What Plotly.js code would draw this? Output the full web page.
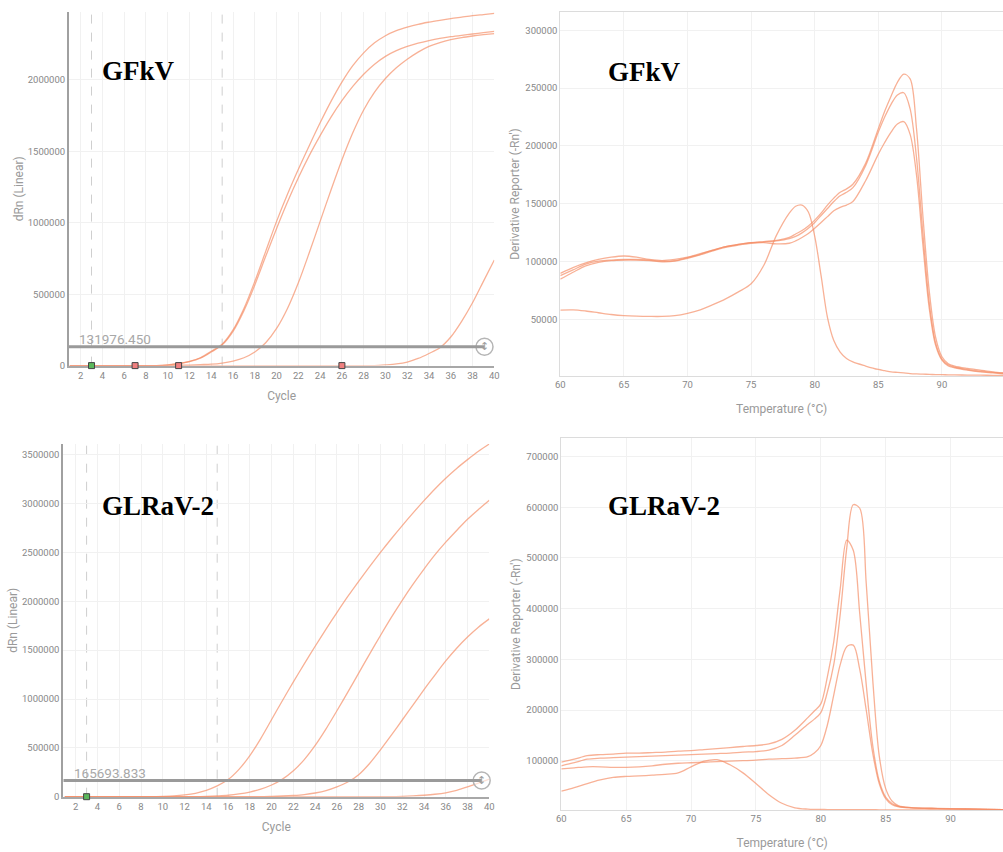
<!DOCTYPE html>
<html>
<head>
<meta charset="utf-8">
<script src="https://cdn.plot.ly/plotly-3.0.1.min.js"></script>
<style>
html,body{margin:0;padding:0;background:#fff;}
#chart{width:1003px;height:852px;}
</style>
</head>
<body>
<div id="chart"></div>
<script>
// ---------- DATA ----------
const cycles = [1,2,3,4,5,6,7,8,9,10,11,12,13,14,15,16,17,18,19,20,21,22,23,24,25,26,27,28,29,30,31,32,33,34,35,36,37,38,39,40];

// GFkV amplification (dRn)
const gfkvAmpA = [0,0,0,0,0,0,0,0,0,5000,15000,30000,55000,100000,150000,250000,400000,590000,800000,1010000,1200000,1375000,1540000,1700000,1850000,1985000,2100000,2190000,2260000,2310000,2345000,2370000,2390000,2405000,2418000,2430000,2440000,2450000,2458000,2466000];
const gfkvAmpB = [0,0,0,0,0,0,0,0,0,4000,13000,28000,52000,95000,145000,240000,385000,565000,765000,960000,1145000,1315000,1470000,1610000,1740000,1855000,1955000,2040000,2110000,2165000,2205000,2235000,2258000,2276000,2291000,2303000,2313000,2322000,2331000,2340000];
const gfkvAmpC = [0,0,0,0,0,0,0,0,0,0,2000,4000,7000,10000,18000,32000,55000,95000,160000,260000,400000,580000,790000,1010000,1230000,1440000,1630000,1790000,1915000,2010000,2085000,2145000,2195000,2235000,2262000,2282000,2297000,2308000,2317000,2325000];
const gfkvAmpD = [0,0,0,0,0,0,0,0,0,0,0,0,0,0,0,0,0,0,0,0,0,0,0,0,0,0,0,0,0,5000,12000,25000,50000,85000,125000,200000,310000,440000,590000,740000];
const gfkvThreshold = 131976.450;
const gfkvCtCycles = [3,7,11,26];
const gfkvCtColors = ['#5cb85c','#f08080','#f08080','#f08080'];

// GLRaV-2 amplification (dRn)
const glrAmpA = [0,0,0,0,0,0,0,0,0,3000,8000,18000,35000,65000,110000,175000,280000,420000,595000,790000,985000,1175000,1360000,1540000,1715000,1885000,2050000,2205000,2355000,2500000,2640000,2775000,2905000,3030000,3150000,3260000,3360000,3450000,3535000,3610000];
const glrAmpB = [0,0,0,0,0,0,0,0,0,0,0,0,0,3000,8000,15000,28000,48000,78000,120000,180000,265000,380000,525000,695000,880000,1070000,1265000,1460000,1650000,1835000,2010000,2175000,2330000,2475000,2605000,2725000,2840000,2940000,3035000];
const glrAmpC = [0,0,0,0,0,0,0,0,0,0,0,0,0,0,0,0,0,0,0,3000,7000,13000,22000,38000,62000,100000,150000,225000,340000,480000,630000,785000,940000,1095000,1245000,1390000,1520000,1635000,1735000,1820000];
const glrAmpD = [0,0,0,0,0,0,0,0,0,0,0,0,0,0,0,0,0,0,0,0,0,0,0,0,0,0,0,0,0,0,0,3000,8000,15000,25000,40000,65000,100000,140000,180000];
const glrThreshold = 165693.833;
const glrCtCycles = [3];
const glrCtColors = ['#5cb85c'];

// GFkV melt curve (derivative reporter)
const gfkvTemp = [60,61,62,63,64,65,66,67,68,69,70,71,72,73,74,75,76,77,78,78.5,79,79.5,80,80.5,81,81.5,82,82.5,83,84,85,85.5,86,86.5,87,87.5,88,88.5,89,89.5,90,90.5,91,92,93,94,95];
const gfkvMelt1 = [58300,58500,57500,56000,54500,53500,53000,52800,52800,53500,55500,58500,63000,68000,74000,81000,97000,123000,142000,148000,149000,143000,122000,88000,52000,32000,22000,16500,13500,10000,7000,6000,5000,4500,4000,3500,3200,3000,2800,2600,2500,2400,2300,2200,2100,2000,2000];
const gfkvMelt2 = [90000,95000,99000,102000,104000,105000,104000,102000,101000,102000,104000,107000,110000,113000,115000,116500,117500,118500,121000,124000,127000,131000,136000,142000,149000,155000,160000,163000,167000,185000,215000,230000,243000,255000,262000,258000,215000,140000,75000,35000,18000,12000,10000,8000,6500,5000,4000];
const gfkvMelt3 = [88000,93000,98000,100500,101500,102000,102000,101500,100500,101000,103500,106500,110000,113000,115000,116500,117000,118000,120000,122000,125000,129000,134000,140000,146000,152000,157000,160000,164000,183000,212000,225000,236000,244000,246000,232000,190000,125000,65000,30000,16000,11000,9000,7000,5500,4500,3500];
const gfkvMelt4 = [85000,91000,96500,99500,101000,101500,101500,101000,100000,100500,103000,106000,109500,112500,114500,116000,116500,115500,116000,118000,121000,124500,129000,134000,139000,144000,147000,149000,152000,170000,193000,203000,212000,219000,221000,210000,175000,115000,60000,28000,15000,10000,8500,6500,5000,4000,3000];

// GLRaV-2 melt curve (derivative reporter)
const glrTemp = [60,61,62,63,64,65,66,67,68,69,70,71,72,73,74,75,76,77,78,79,79.5,80,80.5,81,81.5,82,82.5,83,83.5,84,84.5,85,85.5,86,87,88,89,90,92,94,95];
const glrMelt1 = [97000,103000,110000,112000,113000,115000,115000,116000,117000,119000,120000,122000,124000,126000,128000,130000,133000,142000,160000,185000,198000,212000,265000,335000,440000,535000,515000,390000,250000,130000,60000,28000,15000,10000,7000,6000,5500,5000,4500,3500,3000];
const glrMelt2 = [90000,96000,103000,105000,106000,107000,108000,109000,110000,111000,112000,113000,114000,115000,117000,118000,121000,130000,150000,172000,182000,195000,235000,290000,390000,520000,605000,598000,450000,260000,110000,45000,20000,11000,7500,6500,6000,5500,4500,3500,3000];
const glrMelt3 = [84000,86000,88000,88000,87000,87000,88000,90000,93000,95000,96000,97000,98000,99000,100000,101000,103000,104000,105000,108000,115000,130000,170000,230000,290000,325000,328000,280000,200000,115000,55000,25000,13000,9000,7000,6000,5500,5000,4500,3500,3000];
const glrMelt4 = [40000,47000,55000,62000,67000,69000,70000,71500,73000,76000,88000,99000,102000,92000,76000,55000,33000,16000,7000,4500,4000,3800,3600,3500,3500,3400,3400,3300,3300,3300,3200,3200,3200,3100,3100,3000,3000,3000,3000,2900,2900];

// ---------- STYLE ----------
const curveColor = 'rgba(245,140,100,0.68)';
const tickFont = {family: 'Roboto, Arial, sans-serif', size: 9.5, color: '#888'};
const titleFont = {family: 'Roboto, Arial, sans-serif', size: 12, color: '#9a9a9a'};
const gridColor = '#f1f1f1';

function curve(x, y, xa, ya) {
  return {x: x, y: y, xaxis: xa, yaxis: ya, type: 'scatter', mode: 'lines',
    line: {color: curveColor, width: 1.3, shape: 'spline', smoothing: 0.9},
    hoverinfo: 'skip', showlegend: false, cliponaxis: true};
}

const traces = [];
[gfkvAmpA, gfkvAmpB, gfkvAmpC, gfkvAmpD].forEach(s => traces.push(curve(cycles, s, 'x', 'y')));
[gfkvMelt1, gfkvMelt2, gfkvMelt3, gfkvMelt4].forEach(s => traces.push(curve(gfkvTemp, s, 'x2', 'y2')));
[glrAmpA, glrAmpB, glrAmpC, glrAmpD].forEach(s => traces.push(curve(cycles, s, 'x3', 'y3')));
[glrMelt1, glrMelt2, glrMelt3, glrMelt4].forEach(s => traces.push(curve(glrTemp, s, 'x4', 'y4')));

// Ct markers on the baseline
traces.push({x: gfkvCtCycles, y: gfkvCtCycles.map(() => 0), xaxis: 'x', yaxis: 'y', type: 'scatter', mode: 'markers',
  marker: {symbol: 'square', size: 6, color: gfkvCtColors, line: {color: '#444', width: 1}}, cliponaxis: false, showlegend: false, hoverinfo: 'skip'});
traces.push({x: glrCtCycles, y: glrCtCycles.map(() => 0), xaxis: 'x3', yaxis: 'y3', type: 'scatter', mode: 'markers',
  marker: {symbol: 'square', size: 6, color: glrCtColors, line: {color: '#444', width: 1}}, cliponaxis: false, showlegend: false, hoverinfo: 'skip'});

// threshold handle circles
const gfkvHandleX = 39.1, glrHandleX = 39.3;
traces.push({x: [gfkvHandleX], y: [gfkvThreshold], xaxis: 'x', yaxis: 'y', type: 'scatter', mode: 'markers',
  marker: {symbol: 'circle', size: 17, color: '#fff', line: {color: '#b5b5b5', width: 1.5}}, cliponaxis: false, showlegend: false, hoverinfo: 'skip'});
traces.push({x: [glrHandleX], y: [glrThreshold], xaxis: 'x3', yaxis: 'y3', type: 'scatter', mode: 'markers',
  marker: {symbol: 'circle', size: 17, color: 'rgba(255,255,255,0.6)', line: {color: '#b5b5b5', width: 1.5}}, cliponaxis: false, showlegend: false, hoverinfo: 'skip'});

function ampX(domain, range) {
  return {domain: domain, range: range, dtick: 2, tick0: 0, showgrid: true, gridcolor: gridColor, zeroline: false,
    showline: true, linecolor: '#a8a8a8', linewidth: 2, ticks: '', tickfont: tickFont, layer: 'below traces',
    title: {text: 'Cycle', font: titleFont, standoff: 12}, automargin: false, fixedrange: true};
}
function ampY(domain, range) {
  return {domain: domain, range: range, dtick: 500000, tick0: 0, tickformat: 'd', showgrid: true, gridcolor: gridColor, zeroline: false,
    showline: true, linecolor: '#a0a0a0', linewidth: 2, ticks: '', tickfont: tickFont, layer: 'below traces',
    title: {text: 'dRn (Linear)', font: titleFont, standoff: 2}, automargin: false, fixedrange: true};
}
function meltX(domain, range) {
  return {domain: domain, range: range, dtick: 5, tick0: 0, showgrid: true, gridcolor: gridColor, zeroline: false,
    showline: true, mirror: true, linecolor: '#dcdcdc', linewidth: 1, ticks: '', tickfont: tickFont, layer: 'below traces',
    title: {text: 'Temperature (°C)', font: titleFont, standoff: 15}, automargin: false, fixedrange: true};
}
function meltY(domain, range, dtick) {
  return {domain: domain, range: range, dtick: dtick, tick0: 0, tickformat: 'd', showgrid: true, gridcolor: gridColor, zeroline: false,
    showline: true, mirror: true, linecolor: '#dcdcdc', linewidth: 1, ticks: '', tickfont: tickFont, layer: 'below traces',
    title: {text: "Derivative Reporter (-Rn')", font: titleFont, standoff: 3}, automargin: false, fixedrange: true};
}

const W = 1003, H = 852;
const px = v => v / W, py = v => 1 - v / H;
const labelFont = {family: 'Liberation Serif, Times New Roman, serif', size: 27, color: '#000'};
const thrFont = {family: 'Roboto, Arial, sans-serif', size: 13.5, color: '#a8a8a8'};
const handleFont = {family: 'DejaVu Sans, sans-serif', size: 11, color: '#a0a0a0'};

const layout = {
  width: W, height: H, margin: {l: 0, r: 0, t: 0, b: 0},
  paper_bgcolor: '#fff', plot_bgcolor: '#fff', showlegend: false,
  xaxis: Object.assign(ampX([px(69), px(494.3)], [0.93, 40]), {anchor: 'y'}),
  yaxis: Object.assign(ampY([py(365.6), py(12)], [0, 2476000]), {anchor: 'x'}),
  xaxis2: Object.assign(meltX([px(560.3), 1], [60, 94.8]), {anchor: 'y2'}),
  yaxis2: Object.assign(meltY([py(376), py(12)], [1380, 315700], 50000), {anchor: 'x2'}),
  xaxis3: Object.assign(ampX([px(63.3), px(489.3)], [0.86, 40]), {anchor: 'y3'}),
  yaxis3: Object.assign(ampY([py(796.7), py(444)], [0, 3610000]), {anchor: 'x3'}),
  xaxis4: Object.assign(meltX([px(561.3), 1], [60, 94.04]), {anchor: 'y4'}),
  yaxis4: Object.assign(meltY([py(810), py(438.3)], [2760, 736000], 100000), {anchor: 'x4'}),
  shapes: [
    {type: 'line', xref: 'x', yref: 'y domain', x0: 3, x1: 3, y0: 0, y1: 1, line: {color: '#cfcfcf', width: 1, dash: 'dash'}, layer: 'below'},
    {type: 'line', xref: 'x', yref: 'y domain', x0: 15, x1: 15, y0: 0, y1: 1, line: {color: '#cfcfcf', width: 1, dash: 'dash'}, layer: 'below'},
    {type: 'line', xref: 'x', yref: 'y', x0: 0.93, x1: gfkvHandleX, y0: gfkvThreshold, y1: gfkvThreshold, line: {color: '#9a9a9a', width: 3}, layer: 'above'},
    {type: 'line', xref: 'x3', yref: 'y3 domain', x0: 3, x1: 3, y0: 0, y1: 1, line: {color: '#cfcfcf', width: 1, dash: 'dash'}, layer: 'below'},
    {type: 'line', xref: 'x3', yref: 'y3 domain', x0: 15, x1: 15, y0: 0, y1: 1, line: {color: '#cfcfcf', width: 1, dash: 'dash'}, layer: 'below'},
    {type: 'line', xref: 'x3', yref: 'y3', x0: 0.86, x1: glrHandleX, y0: glrThreshold, y1: glrThreshold, line: {color: '#9a9a9a', width: 3}, layer: 'above'}
  ],
  annotations: [
    {xref: 'paper', yref: 'paper', x: px(100), y: py(71), xanchor: 'left', yanchor: 'middle', showarrow: false, text: '<b>GFkV</b>', font: labelFont},
    {xref: 'paper', yref: 'paper', x: px(606), y: py(72), xanchor: 'left', yanchor: 'middle', showarrow: false, text: '<b>GFkV</b>', font: labelFont},
    {xref: 'paper', yref: 'paper', x: px(100), y: py(506), xanchor: 'left', yanchor: 'middle', showarrow: false, text: '<b>GLRaV-2</b>', font: labelFont},
    {xref: 'paper', yref: 'paper', x: px(606), y: py(506), xanchor: 'left', yanchor: 'middle', showarrow: false, text: '<b>GLRaV-2</b>', font: labelFont},
    {xref: 'paper', yref: 'paper', x: px(77), y: py(339), xanchor: 'left', yanchor: 'middle', showarrow: false, text: gfkvThreshold.toFixed(3), font: thrFont},
    {xref: 'paper', yref: 'paper', x: px(72), y: py(773), xanchor: 'left', yanchor: 'middle', showarrow: false, text: glrThreshold.toFixed(3), font: thrFont},
    {xref: 'x', yref: 'y', x: gfkvHandleX, y: gfkvThreshold, showarrow: false, text: '↕', font: handleFont},
    {xref: 'x3', yref: 'y3', x: glrHandleX, y: glrThreshold, showarrow: false, text: '↕', font: handleFont}
  ]
};

Plotly.newPlot('chart', traces, layout, {staticPlot: true, displayModeBar: false});
</script>
</body>
</html>
